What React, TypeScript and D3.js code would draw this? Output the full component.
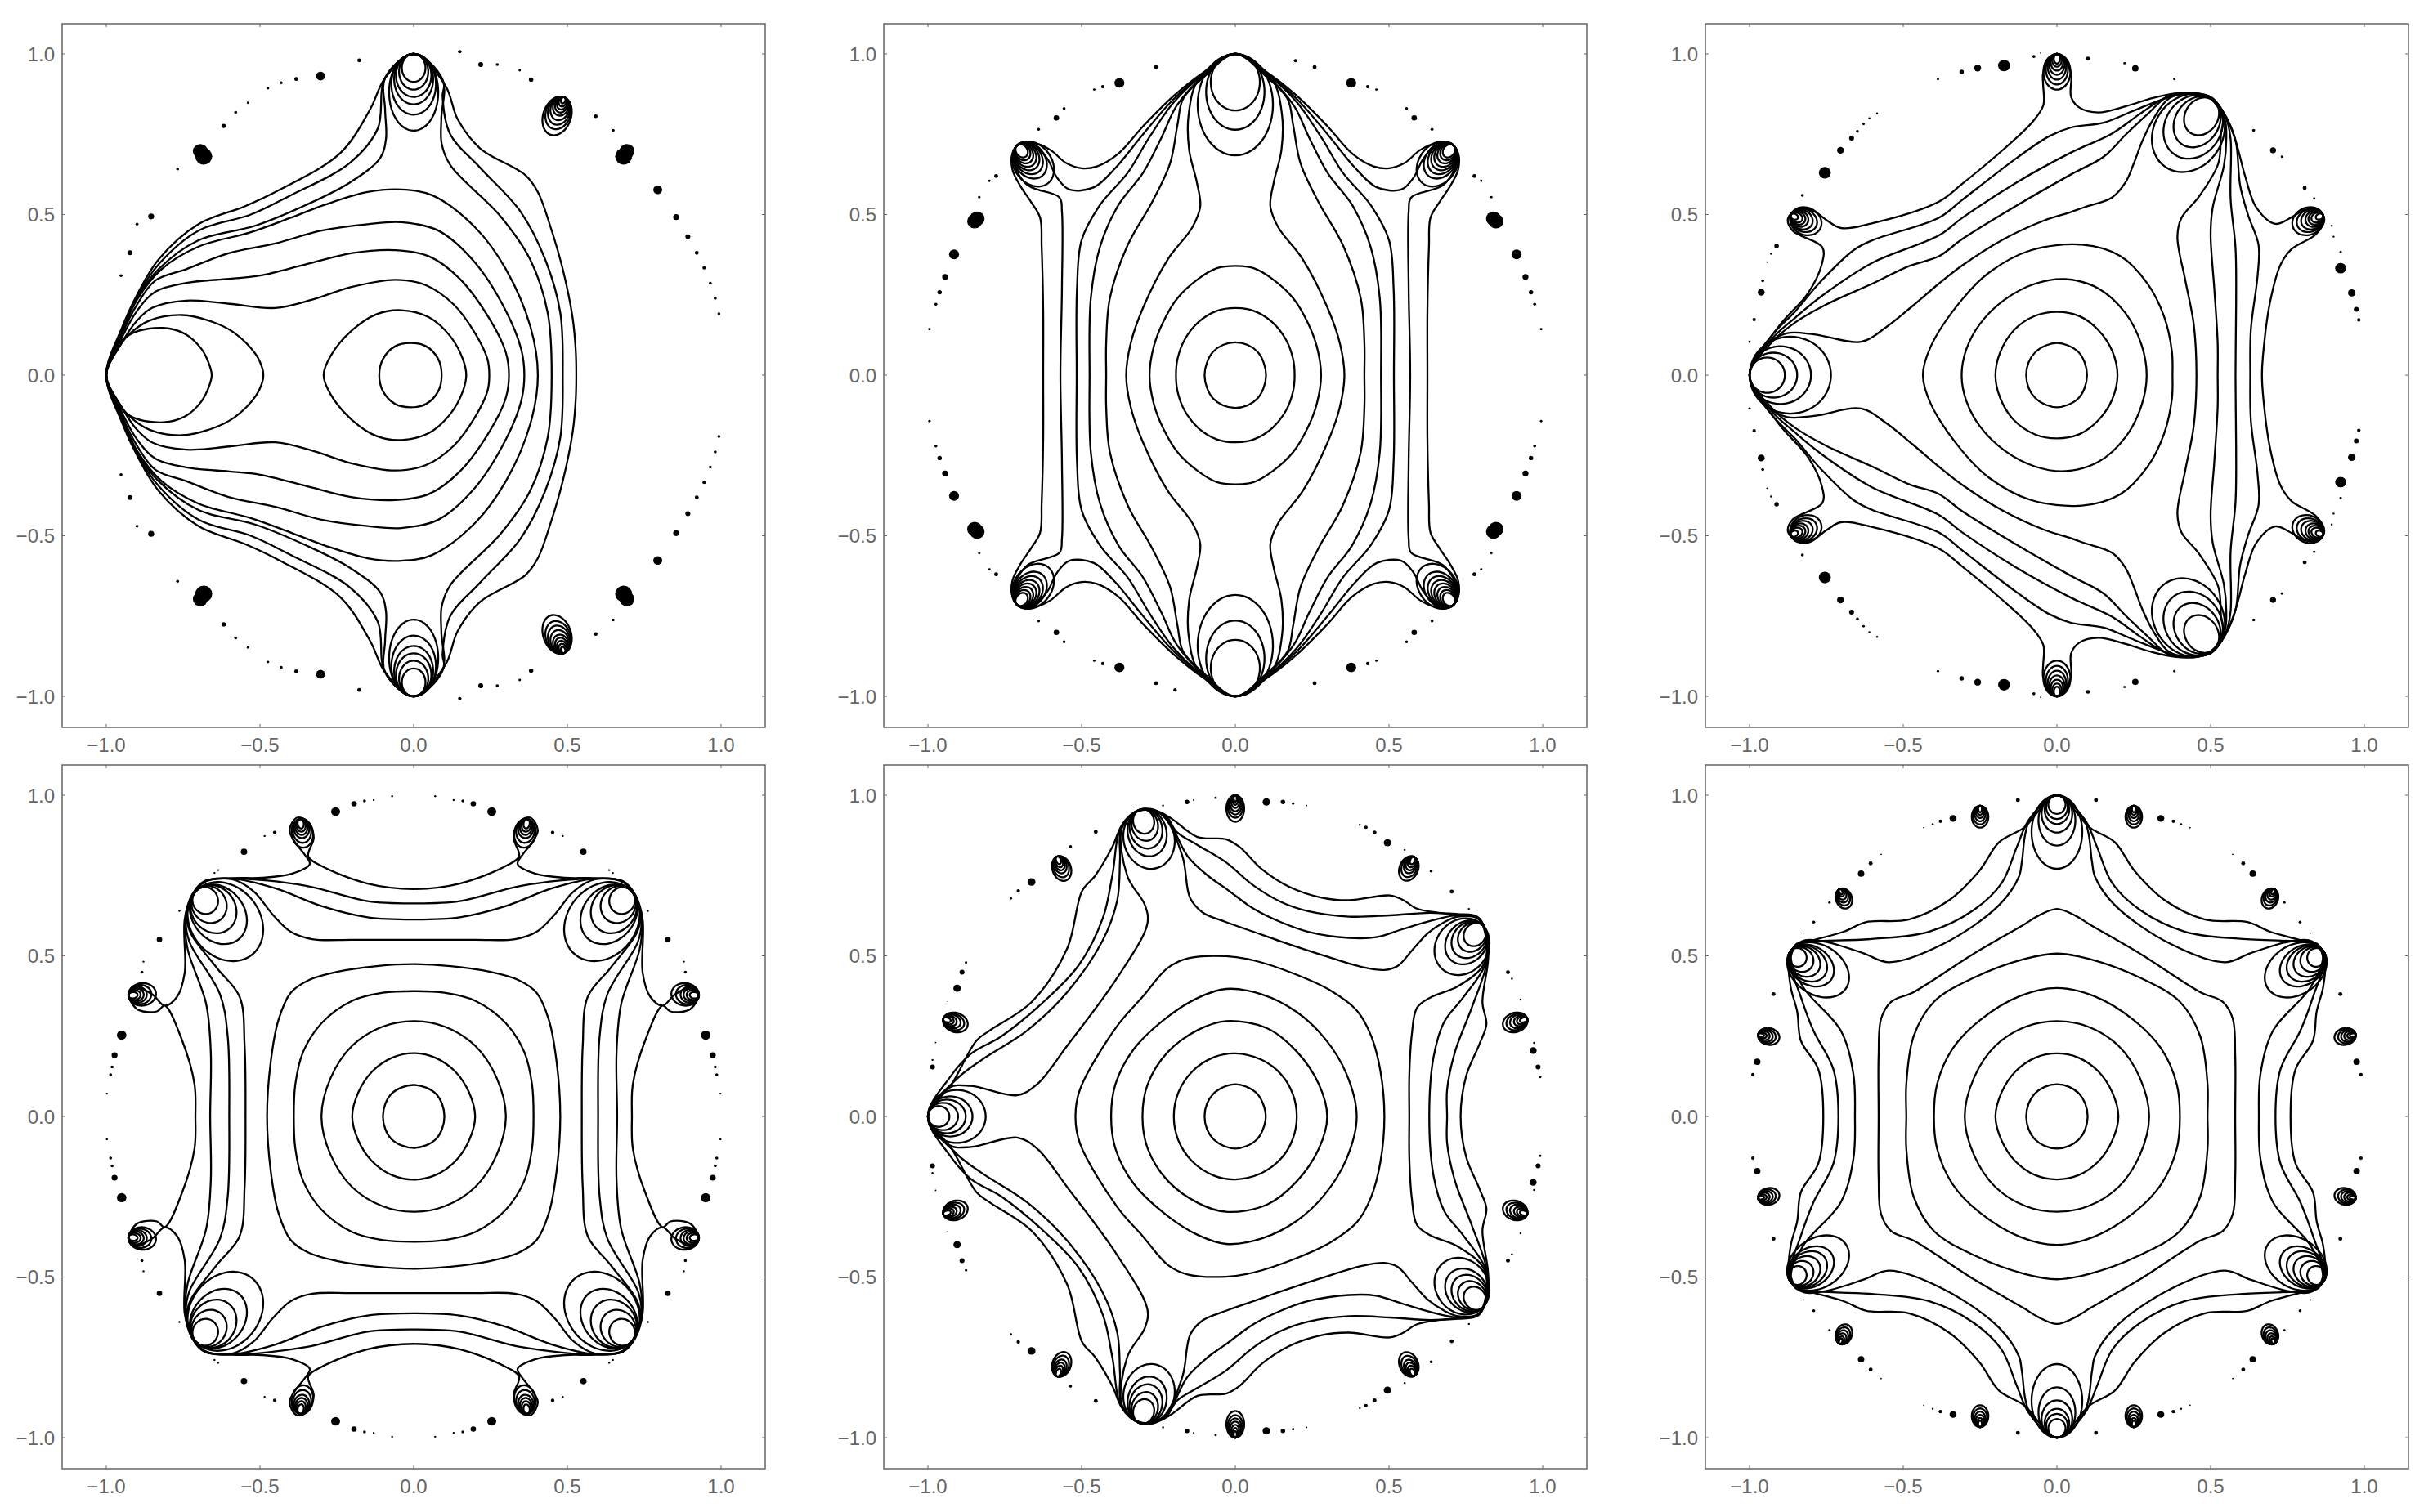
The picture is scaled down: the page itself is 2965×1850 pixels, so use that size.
import React, { useMemo } from "react";
import * as d3 from "d3";

type Pt = [number, number];
type Lobe = [number, number, number, [number, number][]];
type Dot = [number, number, number];

const tickValues = [-1, -0.5, 0, 0.5, 1];

// ---------- panel 1 (upper half, mirrored in y)
const p1Curves: Pt[][] = [
  [[-0.112,0],[-0.1,0.05],[-0.06,0.09],[-0.01,0.1],[0.04,0.09],[0.08,0.05],[0.091,0]],
  [[-0.293,0],[-0.27,0.06],[-0.2,0.14],[-0.12,0.19],[-0.04,0.202],[0.05,0.18],[0.12,0.12],[0.16,0.05],[0.171,0]],
  [[-1,0],[-0.965,0.09],[-0.912,0.132],[-0.814,0.147],[-0.743,0.128],[-0.69,0.081],[-0.664,0.03],[-0.657,0]],
  [[-1,0],[-0.96,0.085],[-0.93,0.123],[-0.859,0.17],[-0.753,0.187],[-0.655,0.166],[-0.584,0.132],[-0.514,0.065],[-0.492,0.02],[-0.489,0]],
  [[-1,0],[-0.95,0.1],[-0.9,0.17],[-0.85,0.21],[-0.74,0.232],[-0.6,0.222],[-0.45,0.209],[-0.33,0.235],[-0.2,0.275],[-0.06,0.297],[0.04,0.28],[0.13,0.22],[0.2,0.13],[0.24,0.05],[0.246,0]],
  [[-1,0],[-0.95,0.115],[-0.9,0.2],[-0.84,0.26],[-0.74,0.287],[-0.6,0.3],[-0.5,0.31],[-0.35,0.345],[-0.2,0.38],[-0.06,0.389],[0.05,0.37],[0.15,0.3],[0.25,0.17],[0.3,0.07],[0.31,0]],
  [[-1,0],[-0.95,0.125],[-0.9,0.22],[-0.84,0.295],[-0.74,0.33],[-0.6,0.38],[-0.45,0.41],[-0.3,0.45],[-0.15,0.47],[-0.04,0.476],[0.08,0.45],[0.2,0.35],[0.3,0.2],[0.35,0.08],[0.36,0]],
  [[-1,0],[-0.95,0.13],[-0.9,0.235],[-0.82,0.33],[-0.7,0.4],[-0.53,0.445],[-0.4,0.49],[-0.29,0.53],[-0.15,0.57],[-0.04,0.578],[0.06,0.56],[0.2,0.46],[0.3,0.33],[0.38,0.15],[0.404,0]],
  [[-1,0],[-0.95,0.135],[-0.9,0.24],[-0.83,0.33],[-0.7,0.42],[-0.516,0.465],[-0.35,0.53],[-0.207,0.6],[-0.109,0.676],[-0.09,0.736],[-0.093,0.827],[-0.093,0.925],[0,1],[0.094,0.92],[0.09,0.8],[0.091,0.721],[0.119,0.654],[0.282,0.495],[0.379,0.36],[0.436,0.194],[0.449,0]],
  [[-1,0],[-0.95,0.14],[-0.9,0.245],[-0.83,0.345],[-0.7,0.45],[-0.53,0.5],[-0.4,0.56],[-0.207,0.661],[-0.117,0.767],[-0.093,0.925],[0,1],[0.098,0.91],[0.094,0.87],[0.119,0.75],[0.216,0.646],[0.347,0.51],[0.428,0.36],[0.477,0.194],[0.485,0]],
  [[-1,0],[-0.95,0.145],[-0.9,0.25],[-0.83,0.36],[-0.7,0.47],[-0.548,0.526],[-0.434,0.578],[-0.239,0.691],[-0.142,0.827],[-0.093,0.925],[0,1],[0.103,0.902],[0.143,0.797],[0.216,0.706],[0.363,0.623],[0.404,0.57],[0.444,0.465],[0.485,0.33],[0.517,0.179],[0.527,0.08],[0.529,0]],
];
const p1Lobes: Lobe[] = [
  [0,1,-90,[[0.087,0.077],[0.111,0.095],[0.134,0.115],[0.157,0.127],[0.189,0.145],[0.239,0.16]]],
  [0.49,0.865,-112,[[0.125,0.09],[0.105,0.08],[0.09,0.07],[0.075,0.06],[0.06,0.05],[0.05,0.04],[0.04,0.032],[0.03,0.024],[0.02,0.014]]],
];
const p1Dots: Dot[] = [
  [-0.303,0.931,9],[-0.177,0.98,4],[-0.382,0.922,4],[-0.431,0.91,3],[-0.474,0.893,2.5],[-0.539,0.848,2.5],[-0.579,0.818,3],[-0.618,0.776,4.5],
  [-0.694,0.697,15],[-0.683,0.681,17],[-0.768,0.642,3],[-0.854,0.494,6],[-0.9,0.47,3],[-0.923,0.381,5],[-0.952,0.31,3],
  [0.15,1.007,3.5],[0.218,0.967,5],[0.272,0.967,3],[0.345,0.949,2.5],[0.382,0.92,4.5],[0.592,0.806,4],[0.649,0.762,3],[0.694,0.697,15],[0.683,0.681,17],
  [0.794,0.577,9],[0.854,0.492,6],[0.892,0.431,5],[0.921,0.381,4],[0.945,0.334,3.5],[0.965,0.286,3],[0.981,0.239,3],[0.993,0.191,3],
];

// ---------- panel 2 (quadrant, mirrored in x and y)
const p2Curves: Pt[][] = [
  [[0,0.102],[0.04,0.094],[0.073,0.072],[0.092,0.04],[0.1,0]],
  [[0,0.209],[0.06,0.2],[0.12,0.165],[0.165,0.11],[0.188,0.05],[0.193,0]],
  [[0,0.34],[0.06,0.333],[0.12,0.3],[0.188,0.24],[0.235,0.165],[0.265,0.09],[0.279,0]],
  [[0,1],[0.12,0.92],[0.152,0.81],[0.15,0.7],[0.125,0.6],[0.114,0.526],[0.14,0.46],[0.22,0.36],[0.3,0.21],[0.34,0.1],[0.355,0]],
  [[0,1],[0.1,0.93],[0.17,0.86],[0.188,0.78],[0.212,0.66],[0.27,0.54],[0.35,0.405],[0.408,0.24],[0.42,0.1],[0.42,0]],
  [[0,1],[0.1,0.935],[0.19,0.84],[0.24,0.74],[0.3,0.63],[0.38,0.53],[0.44,0.4],[0.47,0.24],[0.474,0]],
  [[0,1],[0.1,0.94],[0.2,0.85],[0.28,0.74],[0.35,0.63],[0.44,0.53],[0.5,0.42],[0.515,0.27],[0.516,0]],
  [[0,1],[0.1,0.942],[0.2,0.86],[0.3,0.75],[0.39,0.645],[0.46,0.585],[0.54,0.578],[0.58,0.615],[0.613,0.676],[0.66,0.718],[0.705,0.72],[0.722,0.67],[0.678,0.593],[0.572,0.553],[0.564,0.51],[0.564,0.27],[0.569,0]],
  [[0,1],[0.1,0.945],[0.2,0.87],[0.3,0.775],[0.38,0.69],[0.45,0.65],[0.5,0.644],[0.55,0.66],[0.6,0.7],[0.65,0.722],[0.7,0.722],[0.725,0.69],[0.725,0.64],[0.7,0.59],[0.665,0.54],[0.635,0.49],[0.63,0.4],[0.625,0.2],[0.625,0]],
];
const p2Lobes: Lobe[] = [
  [0,1,-90,[[0.176,0.16],[0.236,0.19],[0.316,0.245]]],
  [0.71,0.715,-132,[[0.045,0.036],[0.055,0.046],[0.067,0.055],[0.08,0.065],[0.093,0.075],[0.108,0.085],[0.125,0.097],[0.155,0.12]]],
];
const p2Dots: Dot[] = [
  [0.258,0.959,4],[0.377,0.91,10],[0.431,0.898,3.5],[0.459,0.889,2.5],[0.557,0.83,3],[0.582,0.801,5.5],[0.64,0.765,3],[0.778,0.62,4],[0.8,0.605,2.5],[0.833,0.554,2.5],
  [0.84,0.487,15],[0.848,0.479,15],[0.915,0.376,10],[0.944,0.306,6],[0.962,0.258,4.5],[0.974,0.221,3],[0.995,0.143,2.5],
];
const p2Singles: Dot[] = [[0.196,0.979,3.5],[-0.196,-0.98,3.5]];

// ---------- panel 3 (upper half)
const p3Curves: Pt[][] = [
  [[-0.1,0],[-0.092,0.04],[-0.07,0.072],[-0.035,0.093],[0,0.1],[0.035,0.093],[0.07,0.072],[0.09,0.04],[0.098,0]],
  [[-0.2,0],[-0.185,0.07],[-0.14,0.14],[-0.07,0.185],[0.002,0.197],[0.075,0.183],[0.135,0.14],[0.18,0.075],[0.197,0]],
  [[-0.31,0],[-0.295,0.08],[-0.25,0.16],[-0.17,0.235],[-0.07,0.285],[0.028,0.299],[0.135,0.27],[0.223,0.193],[0.275,0.095],[0.292,0]],
  [[-0.436,0],[-0.41,0.09],[-0.309,0.235],[-0.22,0.32],[-0.087,0.388],[0.082,0.406],[0.206,0.371],[0.294,0.286],[0.348,0.184],[0.374,0.074],[0.376,0]],
  [[-1,0],[-0.95,0.09],[-0.88,0.13],[-0.79,0.127],[-0.637,0.104],[-0.556,0.149],[-0.47,0.215],[-0.384,0.285],[-0.309,0.341],[-0.176,0.422],[-0.043,0.481],[0.046,0.508],[0.09,0.523],[0.179,0.553],[0.223,0.6],[0.25,0.659],[0.277,0.727],[0.312,0.795],[0.365,0.862],[0.43,0.875],[0.5,0.86],[0.54,0.8],[0.534,0.752],[0.525,0.659],[0.463,0.557],[0.405,0.489],[0.392,0.43],[0.418,0.294],[0.445,0.159],[0.454,0]],
  [[-1,0],[-0.93,0.1],[-0.85,0.165],[-0.75,0.22],[-0.6,0.285],[-0.48,0.34],[-0.384,0.37],[-0.309,0.423],[-0.131,0.528],[0.046,0.625],[0.152,0.68],[0.223,0.748],[0.294,0.812],[0.365,0.871],[0.43,0.876],[0.5,0.861],[0.545,0.8],[0.551,0.735],[0.543,0.651],[0.507,0.523],[0.5,0.439],[0.512,0.269],[0.523,0.099],[0.523,0]],
  [[-1,0],[-0.93,0.11],[-0.85,0.18],[-0.76,0.25],[-0.6,0.35],[-0.384,0.435],[-0.309,0.489],[-0.131,0.6],[0.046,0.693],[0.179,0.752],[0.268,0.812],[0.348,0.862],[0.392,0.875],[0.45,0.877],[0.505,0.862],[0.55,0.8],[0.565,0.735],[0.565,0.549],[0.581,0.396],[0.583,0.226],[0.581,0]],
  [[-1,0],[-0.93,0.12],[-0.85,0.2],[-0.77,0.29],[-0.66,0.39],[-0.6,0.42],[-0.384,0.49],[-0.309,0.545],[-0.131,0.676],[-0.025,0.744],[0.046,0.771],[0.152,0.786],[0.241,0.82],[0.33,0.854],[0.4,0.875],[0.45,0.878],[0.505,0.863],[0.555,0.795],[0.582,0.727],[0.596,0.591],[0.622,0.498],[0.656,0.405],[0.653,0.311],[0.631,0.142],[0.629,0]],
  [[-1,0],[-0.907,0.149],[-0.81,0.255],[-0.765,0.345],[-0.763,0.398],[-0.86,0.45],[-0.875,0.488],[-0.84,0.518],[-0.79,0.51],[-0.75,0.483],[-0.703,0.458],[-0.6,0.473],[-0.384,0.54],[-0.309,0.595],[-0.176,0.701],[-0.078,0.79],[-0.044,0.841],[-0.045,0.905],[-0.045,0.94],[-0.025,0.98],[0,1],[0.025,0.98],[0.046,0.939],[0.046,0.867],[0.073,0.833],[0.135,0.818],[0.223,0.837],[0.312,0.863],[0.383,0.877],[0.445,0.878],[0.503,0.864],[0.551,0.803],[0.582,0.727],[0.613,0.617],[0.648,0.523],[0.71,0.471],[0.768,0.494],[0.808,0.515],[0.852,0.511],[0.87,0.485],[0.843,0.439],[0.763,0.392],[0.728,0.345],[0.693,0.226],[0.67,0.057],[0.667,0]],
];
const p3Lobes: Lobe[] = [
  [-1,0,0,[[0.115,0.11],[0.155,0.14],[0.2,0.18],[0.265,0.24]]],
  [0.511,0.854,-130,[[0.126,0.105],[0.171,0.14],[0.211,0.18],[0.26,0.22]]],
  [0,1,-90,[[0.111,0.088],[0.095,0.072],[0.08,0.06],[0.065,0.05],[0.052,0.04],[0.04,0.03],[0.03,0.02]]],
  [-0.866,0.498,-21,[[0.105,0.085],[0.09,0.07],[0.075,0.06],[0.06,0.05],[0.05,0.04],[0.04,0.03],[0.025,0.018]]],
  [0.866,0.498,201,[[0.105,0.085],[0.09,0.07],[0.075,0.06],[0.06,0.05],[0.05,0.04],[0.04,0.03],[0.025,0.018]]],
];
const p3Dots: Dot[] = [
  [-0.172,0.964,12],[-0.258,0.956,7],[-0.31,0.944,4.5],[-0.387,0.922,2.5],[-0.585,0.815,2],[-0.61,0.8,2],[-0.629,0.782,2.5],[-0.649,0.759,3],[-0.668,0.738,5],[-0.704,0.7,7],[-0.755,0.63,12],[-0.828,0.56,3],
  [-0.912,0.402,4.5],[-0.93,0.378,2],[-0.943,0.352,1.5],[-0.957,0.294,3],[-0.962,0.258,7],[-0.985,0.173,3.5],[-1,0.104,2.5],
  [-0.075,0.992,3],[-0.053,1.003,1.5],[0.101,0.986,4],[0.22,0.971,2.5],[0.255,0.955,6.5],[0.382,0.922,2.5],[0.64,0.762,3],[0.703,0.7,6],[0.732,0.68,2.5],[0.806,0.583,4],[0.837,0.55,2.5],
  [0.894,0.465,2],[0.9,0.431,2],[0.923,0.383,2.5],[0.923,0.333,11],[0.959,0.256,7.5],[0.974,0.205,5],[0.982,0.172,3.5],
];

// ---------- panel 4 (quadrant)
const p4Curves: Pt[][] = [
  [[0,0.098],[0.04,0.09],[0.073,0.07],[0.092,0.04],[0.1,0]],
  [[0,0.197],[0.07,0.183],[0.135,0.14],[0.18,0.075],[0.2,0]],
  [[0,0.297],[0.1,0.28],[0.2,0.22],[0.27,0.12],[0.3,0]],
  [[0,0.39],[0.1,0.385],[0.2,0.36],[0.3,0.29],[0.36,0.2],[0.385,0.1],[0.39,0]],
  [[0,0.474],[0.12,0.468],[0.25,0.45],[0.34,0.425],[0.4,0.385],[0.44,0.3],[0.465,0.17],[0.477,0]],
  [[0,0.55],[0.2,0.55],[0.33,0.552],[0.4,0.575],[0.46,0.63],[0.52,0.7],[0.59,0.738],[0.68,0.73],[0.718,0.688],[0.738,0.62],[0.725,0.57],[0.64,0.462],[0.566,0.372],[0.55,0.22],[0.547,0]],
  [[0,0.613],[0.15,0.62],[0.3,0.655],[0.45,0.71],[0.59,0.74],[0.68,0.731],[0.72,0.689],[0.741,0.615],[0.73,0.545],[0.63,0.38],[0.605,0.25],[0.6,0]],
  [[0,0.663],[0.15,0.67],[0.35,0.718],[0.59,0.741],[0.68,0.732],[0.72,0.69],[0.743,0.61],[0.735,0.52],[0.675,0.35],[0.66,0.2],[0.662,0]],
  [[0,0.708],[0.15,0.725],[0.3,0.78],[0.343,0.81],[0.325,0.869],[0.347,0.92],[0.38,0.93],[0.404,0.89],[0.38,0.846],[0.355,0.816],[0.338,0.786],[0.395,0.756],[0.493,0.743],[0.59,0.742],[0.68,0.733],[0.721,0.69],[0.745,0.613],[0.745,0.447],[0.77,0.372],[0.81,0.345],[0.85,0.38],[0.9,0.4],[0.926,0.38],[0.9,0.334],[0.835,0.327],[0.81,0.345],[0.753,0.236],[0.713,0.1],[0.71,0]],
];
const p4Lobes: Lobe[] = [
  [0.708,0.702,-135,[[0.085,0.082],[0.12,0.11],[0.16,0.14],[0.205,0.165],[0.27,0.22]]],
  [0.37,0.926,-100,[[0.09,0.07],[0.075,0.06],[0.06,0.05],[0.05,0.04],[0.04,0.03],[0.03,0.02]]],
  [0.928,0.376,175,[[0.09,0.07],[0.075,0.06],[0.06,0.05],[0.05,0.04],[0.04,0.03],[0.03,0.02]]],
];
const p4Dots: Dot[] = [
  [0.254,0.949,9],[0.194,0.973,5.5],[0.16,0.982,3],[0.13,0.985,2],[0.07,0.997,2],[0.452,0.884,3.5],[0.485,0.873,2],[0.552,0.824,6.5],[0.636,0.767,2],[0.648,0.758,2],[0.762,0.64,2],[0.827,0.551,5.5],
  [0.879,0.482,2],[0.884,0.449,3],[0.95,0.253,9.5],[0.973,0.191,6],[0.981,0.154,3],[0.986,0.13,3],[0.998,0.071,2],
];

// ---------- panel 5 (upper half)
const p5Curves: Pt[][] = [
  [[-0.1,0],[-0.092,0.04],[-0.07,0.072],[-0.035,0.093],[0,0.1],[0.035,0.093],[0.07,0.072],[0.09,0.04],[0.099,0]],
  [[-0.2,0],[-0.185,0.075],[-0.14,0.14],[-0.07,0.184],[0,0.196],[0.086,0.176],[0.15,0.13],[0.187,0.07],[0.2,0]],
  [[-0.302,0],[-0.285,0.1],[-0.22,0.2],[-0.12,0.27],[-0.03,0.297],[0.104,0.274],[0.2,0.202],[0.272,0.1],[0.299,0]],
  [[-0.404,0],[-0.39,0.1],[-0.33,0.21],[-0.22,0.31],[-0.12,0.37],[-0.03,0.397],[0.086,0.38],[0.2,0.325],[0.29,0.244],[0.361,0.134],[0.395,0]],
  [[-0.52,0],[-0.505,0.085],[-0.384,0.282],[-0.302,0.372],[-0.22,0.462],[-0.155,0.492],[-0.03,0.499],[0.059,0.486],[0.192,0.444],[0.308,0.393],[0.396,0.329],[0.441,0.253],[0.472,0.142],[0.485,0]],
  [[-1,0],[-0.93,0.09],[-0.86,0.095],[-0.71,0.066],[-0.645,0.1],[-0.547,0.22],[-0.384,0.432],[-0.286,0.6],[-0.294,0.658],[-0.351,0.748],[-0.368,0.9],[-0.31,0.952],[-0.237,0.937],[-0.172,0.81],[-0.147,0.68],[-0.106,0.635],[-0.03,0.605],[0.059,0.575],[0.148,0.545],[0.281,0.503],[0.414,0.465],[0.485,0.456],[0.529,0.469],[0.574,0.516],[0.627,0.571],[0.68,0.605],[0.724,0.622],[0.79,0.615],[0.815,0.56],[0.808,0.473],[0.724,0.405],[0.636,0.371],[0.591,0.338],[0.574,0.253],[0.566,0.126],[0.566,0]],
  [[-1,0],[-0.907,0.116],[-0.825,0.176],[-0.678,0.267],[-0.547,0.387],[-0.433,0.545],[-0.384,0.673],[-0.375,0.8],[-0.37,0.9],[-0.31,0.953],[-0.235,0.94],[-0.155,0.81],[-0.09,0.75],[-0.03,0.709],[0.059,0.647],[0.148,0.605],[0.237,0.575],[0.37,0.556],[0.458,0.558],[0.547,0.584],[0.636,0.609],[0.724,0.626],[0.79,0.617],[0.818,0.56],[0.813,0.473],[0.742,0.371],[0.68,0.295],[0.645,0.185],[0.631,0]],
  [[-1,0],[-0.93,0.12],[-0.86,0.195],[-0.76,0.25],[-0.62,0.36],[-0.51,0.47],[-0.43,0.62],[-0.4,0.75],[-0.37,0.905],[-0.31,0.954],[-0.23,0.94],[-0.19,0.885],[-0.123,0.845],[-0.03,0.791],[0.059,0.719],[0.148,0.668],[0.237,0.639],[0.37,0.622],[0.503,0.626],[0.636,0.634],[0.724,0.628],[0.79,0.618],[0.82,0.555],[0.817,0.473],[0.769,0.338],[0.715,0.202],[0.689,0.083],[0.689,0]],
  [[-1,0],[-0.923,0.1],[-0.842,0.236],[-0.8,0.267],[-0.662,0.357],[-0.547,0.523],[-0.498,0.703],[-0.457,0.748],[-0.4,0.839],[-0.368,0.907],[-0.31,0.955],[-0.225,0.937],[-0.123,0.87],[-0.03,0.863],[0.015,0.838],[0.086,0.77],[0.175,0.715],[0.281,0.681],[0.37,0.673],[0.503,0.688],[0.547,0.673],[0.591,0.647],[0.662,0.634],[0.724,0.63],[0.79,0.62],[0.822,0.55],[0.822,0.482],[0.804,0.355],[0.817,0.287],[0.795,0.227],[0.751,0.126],[0.733,0]],
];
const p5Lobes: Lobe[] = [
  [-1,0,0,[[0.07,0.065],[0.098,0.085],[0.123,0.105],[0.145,0.125],[0.188,0.165]]],
  [-0.31,0.955,-72,[[0.077,0.068],[0.1,0.085],[0.125,0.105],[0.15,0.125],[0.19,0.165]]],
  [0.808,0.592,222,[[0.077,0.068],[0.1,0.085],[0.125,0.105],[0.15,0.125],[0.19,0.165]]],
  [0,1,-90,[[0.083,0.058],[0.07,0.05],[0.06,0.042],[0.05,0.035],[0.04,0.026],[0.03,0.017],[0.02,0.01]]],
  [0.582,0.808,-116,[[0.08,0.06],[0.068,0.05],[0.055,0.04],[0.045,0.032],[0.035,0.024],[0.025,0.015]]],
  [-0.58,0.809,-68,[[0.08,0.06],[0.068,0.05],[0.055,0.04],[0.045,0.032],[0.035,0.024],[0.025,0.015]]],
  [0.95,0.304,196,[[0.082,0.06],[0.07,0.05],[0.058,0.042],[0.045,0.032],[0.035,0.024],[0.025,0.015]]],
  [-0.95,0.304,-16,[[0.082,0.06],[0.07,0.05],[0.058,0.042],[0.045,0.032],[0.035,0.024],[0.025,0.015]]],
];
const p5Dots: Dot[] = [
  [-0.985,0.154,5],[-0.985,0.176,2],[-0.975,0.23,1.5],[-0.936,0.358,1],[-0.905,0.399,7.5],[-0.889,0.449,5],[-0.876,0.479,2.5],[-0.73,0.679,2.5],[-0.706,0.702,3.5],[-0.663,0.73,8],[-0.536,0.84,3],[-0.454,0.886,4],
  [-0.235,0.968,2],[-0.157,0.979,4.5],[-0.136,0.985,1.5],[-0.064,0.992,2.5],[0.101,0.979,7.5],[0.155,0.979,4.5],[0.188,0.974,2.5],[0.232,0.968,1.5],[0.405,0.908,2],[0.425,0.9,3.5],[0.453,0.884,4],[0.495,0.852,7.5],[0.551,0.83,2],
  [0.637,0.764,3],[0.704,0.7,4],[0.76,0.646,2],[0.887,0.449,4],[0.9,0.429,2],[0.928,0.364,2],[0.972,0.229,2],[0.969,0.205,7],[0.985,0.154,5],[0.992,0.123,2.5],
];

// ---------- panel 6 (quadrant)
const p6Curves: Pt[][] = [
  [[0,0.1],[0.04,0.092],[0.073,0.07],[0.092,0.04],[0.1,0]],
  [[0,0.196],[0.07,0.183],[0.135,0.14],[0.18,0.075],[0.2,0]],
  [[0,0.297],[0.1,0.28],[0.2,0.22],[0.27,0.12],[0.3,0]],
  [[0,0.4],[0.12,0.375],[0.25,0.3],[0.34,0.21],[0.39,0.1],[0.4,0]],
  [[0,0.507],[0.106,0.49],[0.27,0.432],[0.4,0.357],[0.466,0.25],[0.49,0.1],[0.49,0]],
  [[0,0.646],[0.06,0.625],[0.106,0.598],[0.27,0.507],[0.466,0.387],[0.539,0.357],[0.572,0.304],[0.58,0.19],[0.58,0]],
  [[0,1],[0.09,0.92],[0.114,0.794],[0.123,0.748],[0.188,0.658],[0.368,0.538],[0.547,0.48],[0.629,0.508],[0.76,0.545],[0.83,0.545],[0.865,0.5],[0.825,0.402],[0.703,0.267],[0.662,0.131],[0.657,0]],
  [[0,1],[0.09,0.925],[0.13,0.84],[0.18,0.726],[0.27,0.643],[0.417,0.575],[0.596,0.553],[0.79,0.545],[0.84,0.54],[0.868,0.49],[0.833,0.372],[0.792,0.267],[0.727,0.146],[0.711,0]],
  [[0,1],[0.106,0.9],[0.188,0.854],[0.253,0.764],[0.351,0.673],[0.482,0.613],[0.62,0.605],[0.694,0.575],[0.81,0.545],[0.85,0.535],[0.872,0.48],[0.866,0.402],[0.845,0.327],[0.833,0.236],[0.776,0.146],[0.76,0]],
];
const p6Lobes: Lobe[] = [
  [0,1,-90,[[0.058,0.056],[0.074,0.07],[0.09,0.08],[0.116,0.1],[0.157,0.12],[0.229,0.165]]],
  [0.87,0.51,210,[[0.06,0.058],[0.085,0.075],[0.11,0.09],[0.135,0.105],[0.16,0.12],[0.215,0.155]]],
  [0.25,0.967,-90,[[0.068,0.054],[0.058,0.046],[0.048,0.036],[0.038,0.028],[0.028,0.02],[0.02,0.012]]],
  [0.707,0.708,-115,[[0.065,0.052],[0.055,0.044],[0.045,0.036],[0.035,0.028],[0.025,0.018],[0.018,0.01]]],
  [0.972,0.255,190,[[0.07,0.052],[0.058,0.044],[0.048,0.036],[0.038,0.028],[0.028,0.018],[0.02,0.01]]],
];
const p6Dots: Dot[] = [
  [0.127,0.985,4],[0.338,0.928,7],[0.379,0.919,3.5],[0.404,0.91,2],[0.433,0.899,1.5],[0.572,0.816,1.5],[0.606,0.788,4],[0.637,0.756,6.5],[0.74,0.666,2.5],[0.791,0.605,3],[0.825,0.571,1.5],[0.922,0.381,4],[0.975,0.17,6.5],[0.989,0.13,3.5],
];

const panelData = [
  { curves: p1Curves, lobes: p1Lobes, dots: p1Dots, singles: [] as Dot[], mirrorX: false },
  { curves: p2Curves, lobes: p2Lobes, dots: p2Dots, singles: p2Singles, mirrorX: true },
  { curves: p3Curves, lobes: p3Lobes, dots: p3Dots, singles: [] as Dot[], mirrorX: false },
  { curves: p4Curves, lobes: p4Lobes, dots: p4Dots, singles: [] as Dot[], mirrorX: true },
  { curves: p5Curves, lobes: p5Lobes, dots: p5Dots, singles: [] as Dot[], mirrorX: false },
  { curves: p6Curves, lobes: p6Lobes, dots: p6Dots, singles: [] as Dot[], mirrorX: true },
];

// Layout (page pixels)
const colCentres = [506, 1511, 2516];
const rowCentres = [459, 1366];
const unitX = 376;
const unitY = 393;
const GREY = "#666666";
const fmt = (v: number) => v.toFixed(1).replace("-", "\u2212");

function fullCurve(q: Pt[], mirrorX: boolean): Pt[] {
  const upper: Pt[] = mirrorX
    ? [...q.slice().reverse().map(([x, y]) => [-x, y] as Pt).slice(0, -1), ...q]
    : q;
  const lower = upper.slice(1, -1).reverse().map(([x, y]) => [x, -y] as Pt);
  return [...upper, ...lower];
}

function lobeRing(ax: number, ay: number, deg: number, L: number, W: number): Pt[] {
  const th = (deg * Math.PI) / 180;
  const ux = Math.cos(th), uy = Math.sin(th);
  return d3.range(0, 28).map((i) => {
    const t = (i / 28) * 2 * Math.PI;
    const a = (L * (1 - Math.cos(t))) / 2;
    const b = (W / 2) * Math.sin(t);
    return [ax + a * ux - b * uy, ay + a * uy + b * ux] as Pt;
  });
}

function Panel({ idx }: { idx: number }) {
  const p = panelData[idx];
  const cx = colCentres[idx % 3];
  const cy = rowCentres[Math.floor(idx / 3)];
  const x = d3.scaleLinear().domain([-1, 1]).range([cx - unitX, cx + unitX]);
  const y = d3.scaleLinear().domain([-1, 1]).range([cy + unitY, cy - unitY]);
  const left = cx - 430, right = cx + 430, top = cy - 430, bottom = cy + 431;

  const line = d3.line<Pt>().x((d) => x(d[0])).y((d) => y(d[1])).curve(d3.curveCatmullRomClosed.alpha(0.5));

  const paths = useMemo(() => {
    const out: string[] = [];
    for (const c of p.curves) out.push(line(fullCurve(c, p.mirrorX))!);
    const sx = p.mirrorX ? [1, -1] : [1];
    for (const [ax, ay, deg, sizes] of p.lobes) {
      for (const [L, W] of sizes) {
        for (const mx of sx) {
          for (const my of [1, -1]) {
            if (mx === -1 && ax === 0) continue;
            if (my === -1 && ay === 0) continue;
            const ring = lobeRing(ax, ay, deg, L, W).map(([a, b]) => [a * mx, b * my] as Pt);
            out.push(line(ring)!);
          }
        }
      }
    }
    return out;
  }, [idx]);

  const dots: Dot[] = [...p.singles];
  for (const [a, b, r] of p.dots) {
    for (const mx of p.mirrorX ? [1, -1] : [1]) for (const my of [1, -1]) dots.push([a * mx, b * my, r]);
  }

  return (
    <g>
      <rect x={left} y={top} width={right - left} height={bottom - top} fill="white" stroke={GREY} strokeWidth={1.5} />
      {tickValues.map((t) => (
        <g key={t} stroke={GREY} strokeWidth={1}>
          <line x1={x(t)} x2={x(t)} y1={bottom} y2={bottom - 4} />
          <line x1={x(t)} x2={x(t)} y1={top} y2={top + 4} />
          <line x1={left} x2={left + 4} y1={y(t)} y2={y(t)} />
          <line x1={right} x2={right - 4} y1={y(t)} y2={y(t)} />
        </g>
      ))}
      {tickValues.map((t) => (
        <text key={"x" + t} x={x(t)} y={bottom + 30} textAnchor="middle" fontFamily="Liberation Sans" fontSize={24} fill={GREY}>{fmt(t)}</text>
      ))}
      {tickValues.map((t) => (
        <text key={"y" + t} x={left - 9} y={y(t) + 8.5} textAnchor="end" fontFamily="Liberation Sans" fontSize={24} fill={GREY}>{fmt(t)}</text>
      ))}
      {paths.map((d, i) => (
        <path key={i} d={d} fill="none" stroke="black" strokeWidth={2.3} />
      ))}
      {dots.map(([a, b, r], i) => (
        <ellipse key={"d" + i} cx={x(a)} cy={y(b)} rx={r * 0.61} ry={r * 0.59} fill="black" />
      ))}
    </g>
  );
}

export default function App() {
  return (
    <svg width={2965} height={1850} viewBox="0 0 2965 1850" style={{ position: "absolute", left: 0, top: 0, background: "white" }}>
      {panelData.map((_, i) => (
        <Panel key={i} idx={i} />
      ))}
    </svg>
  );
}
